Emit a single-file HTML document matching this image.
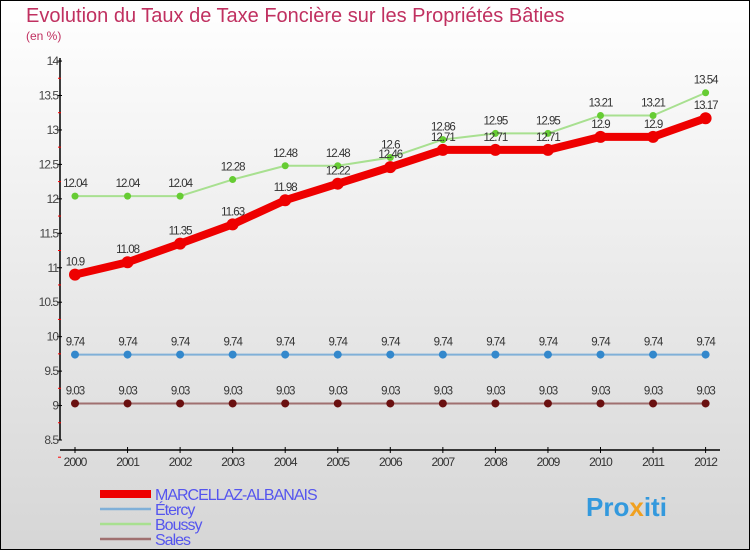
<!DOCTYPE html>
<html><head><meta charset="utf-8"><style>
body{margin:0}
#c{width:750px;height:550px;position:relative;overflow:hidden;font-family:"Liberation Sans","DejaVu Sans",sans-serif;background:linear-gradient(#fff,#d6d6d6);box-sizing:border-box;border:1px solid #000}
</style></head><body>
<div id="c">
<svg id="s" width="750" height="550" style="position:absolute;left:-1px;top:-1px">
<text x="26" y="22" font-size="20" fill="#c03060">Evolution du Taux de Taxe Foncière sur les Propriétés Bâties</text>
<text x="26" y="40" font-size="12" fill="#c03060">(en %)</text>
<text x="586" y="516" font-size="26" font-weight="bold" fill="#3399dd">Pro<tspan fill="#f0a020">x</tspan>iti</text>
</svg>
</div>
<script>
const years=["2000","2001","2002","2003","2004","2005","2006","2007","2008","2009","2010","2011","2012"];
const yTicks=[8.5,9,9.5,10,10.5,11,11.5,12,12.5,13,13.5,14];
const marcellaz=[10.9,11.08,11.35,11.63,11.98,12.22,12.46,12.71,12.71,12.71,12.9,12.9,13.17];
const etercy=[9.74,9.74,9.74,9.74,9.74,9.74,9.74,9.74,9.74,9.74,9.74,9.74,9.74];
const boussy=[12.04,12.04,12.04,12.28,12.48,12.48,12.6,12.86,12.95,12.95,13.21,13.21,13.54];
const sales=[9.03,9.03,9.03,9.03,9.03,9.03,9.03,9.03,9.03,9.03,9.03,9.03,9.03];
const seriesNames=["MARCELLAZ-ALBANAIS","Étercy","Boussy","Sales"];
const s=document.getElementById('s');const NS="http://www.w3.org/2000/svg";
const X=i=>75+i*52.55;const Y=v=>440-(v-8.5)/0.5*34.45;
function mk(t,a,p){const e=document.createElementNS(NS,t);for(const k in a)e.setAttribute(k,a[k]);(p||s).appendChild(e);return e;}
let ax=mk('line',{x1:60,y1:58,x2:60,y2:440,stroke:'#000','stroke-width':1.5});


let xa=mk('line',{x1:60,y1:450,x2:720,y2:450,stroke:'#000','stroke-width':1.5});


yTicks.forEach(v=>{mk('line',{x1:57,x2:62,y1:Y(v),y2:Y(v),stroke:'#000'});
 mk('line',{x1:58,x2:61,y1:Y(v)+17.2,y2:Y(v)+17.2,stroke:'#f00'});
 const t=mk('text',{x:58,y:Y(v)+4,'font-size':12,'text-anchor':'end',fill:'#444','letter-spacing':'-1'});t.textContent=String(v);
 
 });
years.forEach((y,i)=>{mk('line',{x1:X(i),x2:X(i),y1:447,y2:453,stroke:'#000'});
 const t=mk('text',{x:X(i),y:466,'font-size':12,'text-anchor':'middle',fill:'#333','letter-spacing':'-1'});t.textContent=y;
 
 });
function series(d,col,w,r,dot,name){
 const p=mk('polyline',{points:d.map((v,i)=>X(i)+','+Y(v)).join(' '),fill:'none',stroke:col,'stroke-width':w,'stroke-linejoin':'round'});
 
 
 d.forEach((v,i)=>{const c=mk('circle',{cx:X(i),cy:Y(v),r:r,fill:dot});
  
  
  const t=mk('text',{x:X(i),y:Y(v)-9,'font-size':11.5,'text-anchor':'middle',fill:'#333','letter-spacing':'-1'});t.textContent=String(v);
  
  });
}
series(sales,'#a07070',2,4,'#6a1010','sales');
series(etercy,'#80b0d8',2,4,'#3388cc','etercy');
series(boussy,'#a8e090',2,3.5,'#66cc33','boussy');
series(marcellaz,'#ee0000',8,6,'#ee0000','marcellaz-albanais');
const lc=['#ee0000','#80b0d8','#a8e090','#a07070'],lw=[8,2.5,2.5,2.5];
seriesNames.forEach((n,i)=>{const y=494+i*15;
 const l=mk('line',{x1:100,x2:151,y1:y,y2:y,stroke:lc[i],'stroke-width':lw[i]});
 
 
 const t=mk('text',{x:155,y:y+6,'font-size':16,fill:'#5555ee','letter-spacing':'-1'});t.textContent=n;
 
 });
</script>
</body></html>
